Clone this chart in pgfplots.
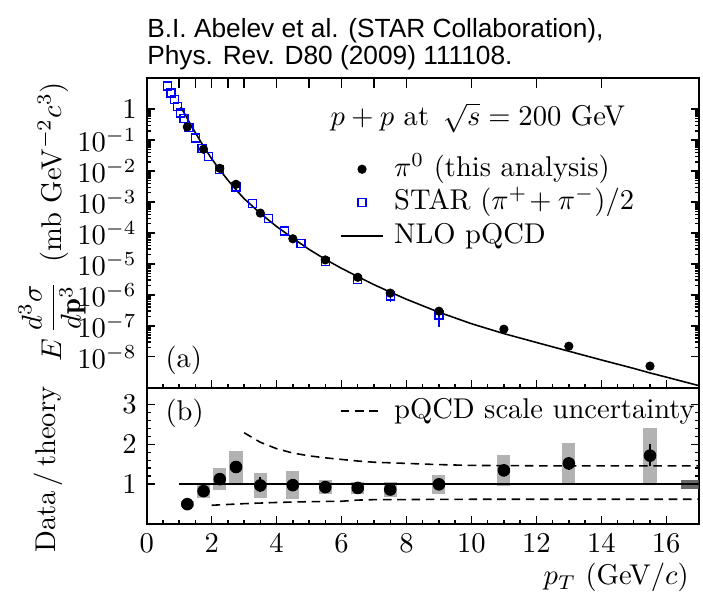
\documentclass[border=0pt]{standalone}
\usepackage{pgfplots}
\pgfplotsset{compat=1.18}
\usepackage{pgfplotstable}
\usepackage{amsmath}
\usepackage{fontspec}
\newfontfamily\titlefont{Liberation Sans}
\definecolor{boxgray}{RGB}{178,178,178}
\definecolor{darkbox}{RGB}{105,105,105}
\definecolor{starblue}{RGB}{0,0,255}

\pgfplotstableread{
x y e
1.25 0.267 0.011
1.75 0.0508 0.002
2.25 0.0123 5.5e-4
2.75 3.74e-3 2.1e-4
3.5 4.4e-4 7.9e-5
4.5 6.5e-5 5.2e-6
5.5 1.35e-5 6.8e-7
6.5 3.7e-6 1.9e-7
7.5 1.14e-6 8e-8
9 2.97e-7 2.4e-8
11 7.8e-8 6.2e-9
13 2.2e-8 2.4e-9
15.5 5.0e-9 7.8e-10
}\pizero

\pgfplotstableread{
x y e
0.65 5.67 0
0.75 3.37 0
0.85 2.06 0
0.95 1.25 0
1.05 0.76 0
1.15 0.50 0
1.3 0.255 0
1.5 0.118 0
1.7 0.0535 0
1.9 0.030 0
2.25 0.0112 0
2.75 3.07e-3 0
3.25 8.9e-4 0
3.75 2.9e-4 0
4.25 1.17e-4 0
4.75 4.5e-5 0
5.5 1.2e-5 0
6.5 3.2e-6 0
7.5 9.1e-7 3.3e-7
9 2.26e-7 1.36e-7
}\starpi

\pgfplotstableread{
x y
1.05 1.19
1.25 0.50
1.5 0.174
1.75 0.063
2.0 0.0251
2.25 0.011
2.5 5.1e-3
2.75 2.5e-3
3.0 1.29e-3
3.5 4.3e-4
4.0 1.62e-4
4.5 6.8e-5
5.0 2.95e-5
5.5 1.41e-5
6.0 7.2e-6
6.5 3.9e-6
7.0 2.14e-6
7.5 1.23e-6
8.0 7.2e-7
9.0 2.75e-7
10 1.17e-7
11 5.6e-8
12 2.9e-8
13 1.51e-8
14 7.9e-9
15 4.2e-9
15.5 3.0e-9
16 2.2e-9
17 1.17e-9
}\nlo

\pgfplotstableread{
x y e
1.25 0.51 0.02
1.75 0.81 0.03
2.25 1.12 0.05
2.75 1.44 0.08
3.5 0.99 0.18
4.5 0.98 0.08
5.5 0.93 0.05
6.5 0.92 0.05
7.5 0.88 0.06
9 1.00 0.06
11 1.35 0.10
13 1.52 0.17
15.5 1.73 0.27
}\ratio

\pgfplotstableread{
x c e
1.25 0.4975 0.0775
1.75 0.825 0.165
2.25 1.125 0.275
2.75 1.43 0.41
3.5 0.9675 0.3125
4.5 0.975 0.355
5.5 0.925 0.175
6.5 0.905 0.145
7.5 0.865 0.185
9 0.995 0.235
11 1.345 0.385
13 1.52 0.51
15.5 1.715 0.695
}\sysbox

\pgfplotstableread{
x y
3.0 2.29
3.5 2.05
4.0 1.89
4.5 1.78
5.0 1.71
5.5 1.66
6.0 1.62
6.5 1.58
7 1.55
8 1.52
9 1.49
10 1.47
12 1.46
17 1.46
}\scaleup

\pgfplotstableread{
x y
2.0 0.47
3 0.51
4 0.54
5 0.56
6 0.57
6.5 0.60
7 0.61
10 0.62
17 0.62
}\scalelo

\pgfplotsset{
  lineleg/.style={legend image code/.code={\draw[##1] (0cm,0cm) -- (0.525cm,0cm);}},
  markleg/.style={legend image code/.code={\path[draw=none,fill=none] (0cm,0cm) -- (0.525cm,0cm); \path[##1] plot coordinates {(0.2625cm,0cm)};}},
  common/.style={scale only axis, width=193.2pt, xmin=0, xmax=17,
     axis line style={line width=0.7pt},
     tick style={black, line width=0.5pt},
     major tick length=2.8pt, minor tick length=1.4pt,
     tick align=inside,
     legend style={draw=none, fill=none, inner sep=0pt, outer sep=0pt,
        column sep=3.5pt, row sep=2.7pt,
        nodes={inner sep=0pt, text height=7pt, text depth=2pt}},
     legend cell align=left,
  },
}

\begin{document}
\begin{tikzpicture}
\path[use as bounding box] (-51.35pt,-24.15pt) rectangle (194.7pt,183.4pt);

% top panel
\begin{axis}[common, at={(0pt,47.7pt)}, anchor=south west, height=108.3pt,
  ymode=log, ymin=1e-9, ymax=10,
  ytickten={-8,...,0},
  yticklabels={$10^{-8}$,$10^{-7}$,$10^{-6}$,$10^{-5}$,$10^{-4}$,$10^{-3}$,$10^{-2}$,$10^{-1}$,$1$},
  xtick={0,2,...,16}, minor x tick num=3, xticklabels={}, xtick pos=left,
  ylabel={$E\,\dfrac{d^3\sigma}{d\mathbf{p}^3}$\ \ (mb GeV$^{-2}c^3$)},
  ylabel style={at={(axis description cs:-0.171,0.537)}, anchor=center},
  legend style={at={(axis description cs:0.35,0.598)}, anchor=west}]
\addplot[forget plot, black, line width=0.55pt, mark=none] table[x=x,y=y] {\nlo};
\addplot[forget plot, only marks, mark=square, mark size=1.4pt, starblue, line width=0.45pt,
  error bars/.cd, y dir=both, y explicit, error mark=none,
  error bar style={starblue, line width=0.5pt}] table[x=x,y=y,y error=e] {\starpi};
\addplot[forget plot, only marks, mark=*, mark size=1.4pt, black,
  error bars/.cd, y dir=both, y explicit, error mark=none,
  error bar style={black, line width=0.6pt}] table[x=x,y=y,y error=e] {\pizero};
\addlegendimage{markleg, mark=*, mark size=1.4pt, black}
\addlegendentry{$\pi^0$ (this analysis)}
\addlegendimage{markleg, mark=square, mark size=1.4pt, starblue, line width=0.45pt}
\addlegendentry{STAR ($\pi^{+}\!+\pi^{-}$)/2}
\addlegendimage{lineleg, black, line width=0.55pt}
\addlegendentry{NLO pQCD}
\node[anchor=west, inner sep=0pt] at (axis description cs:0.332,0.872) {$p+p$ at\hspace{1.6pt} $\sqrt{s}=200$ GeV};
\node[anchor=west, inner sep=0pt] at (axis description cs:0.033,0.0895) {(a)};
\end{axis}

% bin edge ticks on top of the top panel
\begin{axis}[scale only axis, width=193.2pt, height=108.3pt, at={(0pt,47.7pt)}, anchor=south west,
  xmin=0, xmax=17, ymin=0, ymax=1, axis line style={draw=none},
  ytick=\empty, xtick={1,1.5,2,2.5,3,4,5,6,7,8,10,12,14}, xticklabels={},
  xtick pos=right, tick align=inside, major tick length=3.5pt,
  tick style={black, line width=0.5pt}]
\end{axis}

% bottom panel
\begin{axis}[common, at={(0pt,0pt)}, anchor=south west, height=47.7pt,
  ymin=0, ymax=3.42, ytick={1,2,3}, minor y tick num=4,
  xtick={0,2,...,16}, minor x tick num=3, xtick pos=left,
  xlabel={$p_T$ (GeV/$c$)},
  xlabel style={at={(axis description cs:1,0)}, anchor=base east, yshift=-21.35pt},
  ylabel={Data\,/\,theory},
  ylabel style={at={(axis description cs:-0.179,0.40)}, anchor=center},
  legend style={at={(axis description cs:0.35,0.83)}, anchor=west}]
\addplot[forget plot, only marks, mark=none,
  error bars/.cd, y dir=both, y explicit, error mark=none,
  error bar style={draw=boxgray, line width=4.56pt}] table[x=x,y=c,y error=e] {\sysbox};
\addplot[forget plot, fill=darkbox, draw=none, mark=none] coordinates {(16.45,0.87) (17,0.87) (17,1.10) (16.45,1.10)} -- cycle;
\addplot[forget plot, black, line width=0.6pt, mark=none] coordinates {(1,1) (17,1)};
\addplot[forget plot, black, line width=0.55pt, mark=none, dash pattern=on 3pt off 2pt] table[x=x,y=y] {\scaleup};
\addplot[forget plot, black, line width=0.55pt, mark=none, dash pattern=on 3pt off 2pt] table[x=x,y=y] {\scalelo};
\addplot[forget plot, only marks, mark=*, mark size=1.4pt, black,
  error bars/.cd, y dir=both, y explicit, error mark=none,
  error bar style={black, line width=0.7pt}] table[x=x,y=y,y error=e] {\ratio};
\addlegendimage{lineleg, black, line width=0.55pt, dash pattern=on 3pt off 2pt}
\addlegendentry{pQCD scale uncertainty}
\node[anchor=west, inner sep=0pt] at (axis description cs:0.033,0.814) {(b)};
\end{axis}

\node[anchor=base west, inner sep=0pt, font=\titlefont\fontsize{9.2}{11}\selectfont] at (0pt,170.1pt) {B.I. Abelev et al. (STAR Collaboration),};
\node[anchor=base west, inner sep=0pt, font=\titlefont\fontsize{9.2}{11}\selectfont] at (0pt,160.65pt) {Phys. Rev. D80 (2009) 111108.};
\end{tikzpicture}
\end{document}
